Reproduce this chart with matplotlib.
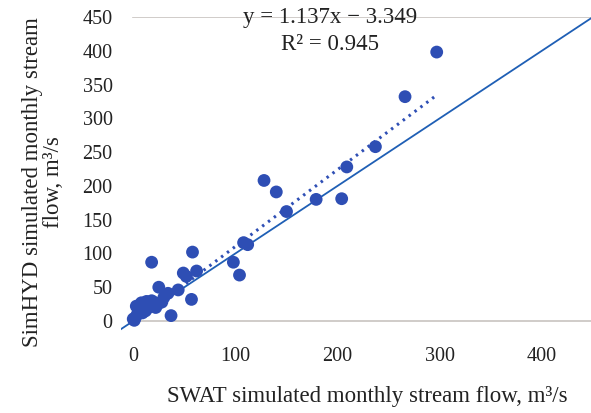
import matplotlib.pyplot as plt
import numpy as np

# Valores (SWAT x SimHYD, m3/s)
swat = [297, 266, 237, 209, 204, 179, 150, 140, 128, 112, 108, 104, 98,
        62, 58, 57, 52, 49, 44, 37, 34, 30, 25, 18, 28, 24, 20, 16, 13,
        10, 8, 6, 4, 3, 2, 1, 0, 12, 22, 18, 9, 5, 14]
simhyd = [398, 332, 258, 228, 181, 180, 162, 191, 208, 113, 116, 68, 87,
          74, 102, 32, 66, 71, 46, 8, 41, 35, 50, 87, 28, 25, 28, 22, 29,
          25, 27, 18, 10, 22, 5, 1, 3, 15, 20, 30, 12, 14, 19]
slope = 1.137
intercept = -3.349
xticks = [0, 100, 200, 300, 400]
yticks = [0, 50, 100, 150, 200, 250, 300, 350, 400, 450]

plt.rcParams['font.family'] = ['Liberation Serif', 'DejaVu Serif']

fig = plt.figure(figsize=(5.91, 4.13), dpi=100)
ax = fig.add_axes([0.2047, 0.19, 0.7953, 0.769])

# linhas de grade (só 0 e 450)
ax.plot([0, 450], [0, 0], color='#c8c4c0', lw=1.2, zorder=1)
ax.plot([0, 450], [450, 450], color='#c8c4c0', lw=1.2, zorder=1)

# linha 1:1
ax.plot([-15, 450], [-15, 450], color='#1f5fb5', lw=1.3, zorder=2)

# linha de tendência
xt = np.array([min(swat), max(swat)])
ax.plot(xt, slope * xt + intercept, color='#2f4fb5', lw=2.2,
        linestyle=(0, (0.8, 1.6)), zorder=2)

ax.scatter(swat, simhyd, s=85, color='#2e4eb4', edgecolors='none', zorder=3)

ax.set_xlim(-12, 448)
ax.set_ylim(-20, 450)
ax.set_xticks(xticks)
ax.set_yticks(yticks)
ax.tick_params(length=0, labelsize=14.5, colors='#222222')
ax.tick_params(axis='x', pad=9)
ax.tick_params(axis='y', pad=6)
for s in ax.spines.values():
    s.set_visible(False)

ax.text(193, 449, 'y = 1.137x − 3.349', ha='center', va='center',
        fontsize=16.5, color='#222222')
ax.text(193, 409, 'R² = 0.945', ha='center', va='center',
        fontsize=16.5, color='#222222')

fig.text(0.621, 0.039, 'SWAT simulated monthly stream flow, m³/s',
         ha='center', va='center', fontsize=16.5, color='#222222')
fig.text(0.072, 0.56, 'SimHYD simulated monthly stream\nflow, m³/s',
         ha='center', va='center', rotation=90, fontsize=16.5,
         color='#222222', linespacing=1.0)

plt.savefig('out.png', dpi=100)
